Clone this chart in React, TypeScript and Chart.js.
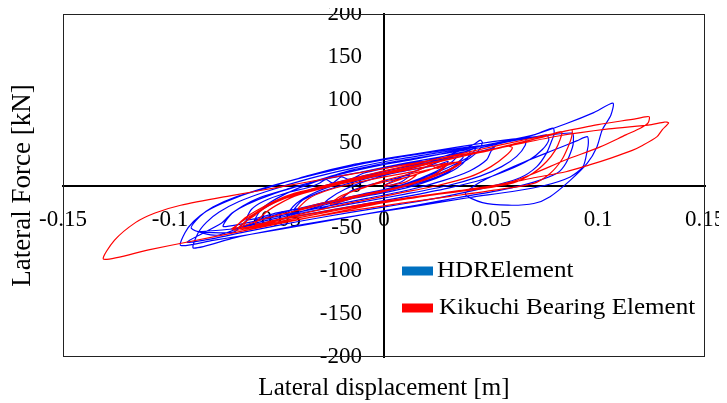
import React, { useEffect, useRef } from 'react';
import { Chart, registerables } from 'chart.js';

Chart.register(...registerables);

const X_MIN = -0.15;
const X_MAX = 0.15;
const X_STEP = 0.05;
const Y_MIN = -200;
const Y_MAX = 200;
const Y_STEP = 50;

const SERIES_LABELS = ['HDRElement', 'Kikuchi Bearing Element'];
const X_TITLE = 'Lateral displacement [m]';
const Y_TITLE = 'Lateral Force [kN]';

// HDRElement – [displacement m, force kN]
const hdrCycle1 = [
  [0, 0], [0.01, 12], [0.02, 22], [0.03, 32], [0.035, 37],
  [0.032, 28], [0.024, 16], [0.01, 2], [-0.005, -8], [-0.02, -19], [-0.03, -27],
  [-0.026, -16], [-0.018, -4], [-0.005, 8], [0.01, 18], [0.025, 29], [0.04, 41], [0.043, 44],
  [0.04, 34], [0.03, 21], [0.015, 6], [0, -6], [-0.015, -15], [-0.03, -24], [-0.045, -34],
];
const hdrCycle2 = [
  [-0.041, -21], [-0.033, -9], [-0.02, 3], [-0.005, 13], [0.01, 22], [0.025, 32], [0.035, 40], [0.042, 48], [0.045, 53], [0.046, 50],
  [0.044, 40], [0.037, 27], [0.025, 13], [0.008, 0], [-0.01, -10], [-0.03, -21], [-0.045, -30], [-0.06, -40],
];
const hdrCycle3 = [
  [-0.057, -27], [-0.05, -15], [-0.04, -3], [-0.025, 10], [-0.005, 22], [0.015, 31], [0.035, 41], [0.055, 51], [0.07, 59], [0.079, 67],
  [0.0795, 60], [0.0785, 53], [0.076, 38], [0.0714, 22], [0.0636, 9], [0.05, -1], [0.03, -12], [0.01, -21], [-0.015, -31], [-0.04, -42], [-0.065, -54], [-0.08, -62], [-0.092, -66],
];
const hdrCycle3b = [
  [-0.076, -44], [-0.071, -32], [-0.064, -22], [-0.052, -10], [-0.035, 3], [-0.015, 18], [0.005, 28], [0.025, 36], [0.045, 44], [0.058, 51], [0.066, 55],
  [0.066, 47], [0.062, 34], [0.055, 22], [0.045, 11], [0.03, 0], [0.01, -10], [-0.01, -19], [-0.03, -28], [-0.05, -38], [-0.065, -47], [-0.078, -58],
];
const hdrCycle4 = [
  [-0.09, -50], [-0.086, -36], [-0.08, -25], [-0.07, -14], [-0.055, -3], [-0.035, 12], [-0.015, 24], [0.005, 33], [0.025, 41], [0.045, 49], [0.06, 54], [0.075, 58], [0.088, 61],
  [0.0885, 52], [0.088, 44], [0.085, 26], [0.081, 14.6], [0.07, 4], [0.055, -5], [0.035, -14], [0.015, -23], [-0.01, -34], [-0.035, -45], [-0.06, -56], [-0.08, -64], [-0.095, -70],
];
const hdrCycle5 = [
  [-0.093, -55], [-0.089, -42], [-0.083, -30], [-0.073, -18], [-0.06, -6], [-0.04, 8], [-0.02, 20], [0, 30], [0.02, 38], [0.04, 45], [0.054, 49], [0.07, 59], [0.085, 72], [0.098, 85], [0.107, 96],
  [0.106, 82], [0.102, 65], [0.0995, 45], [0.095, 26], [0.087, 6], [0.0776, -13], [0.07, -21], [0.058, -23], [0.046, -20], [0.038, -10],
  [0.045, 4], [0.055, 16], [0.066, 28], [0.08, 42], [0.09, 52], [0.095, 57],
  [0.0955, 50], [0.095, 41], [0.093, 22], [0.087, 10], [0.075, 0], [0.06, -7], [0.04, -14], [0.02, -22], [0, -30], [-0.025, -40], [-0.05, -51], [-0.07, -61], [-0.089, -73],
];
const hdrCycle6 = [
  [-0.087, -56], [-0.083, -43], [-0.077, -31], [-0.068, -19], [-0.055, -7], [-0.035, 8], [-0.015, 20], [0.005, 30], [0.025, 38], [0.045, 46], [0.06, 52], [0.07, 56], [0.076, 59],
  [0.077, 53], [0.074, 42], [0.068, 30], [0.058, 18], [0.046, 7], [0.03, -3], [0.01, -13], [-0.01, -22], [-0.035, -33], [-0.055, -43], [-0.072, -51], [-0.087, -54], [-0.07, -54],
];
const hdrCycle7 = [
  [-0.064, -40], [-0.057, -28], [-0.048, -16], [-0.033, -4], [-0.015, 8], [0.005, 19], [0.025, 29], [0.04, 37], [0.05, 43], [0.052, 46], [0.05, 40],
  [0.048, 30], [0.04, 17], [0.028, 6], [0.012, -5], [-0.008, -15], [-0.028, -25], [-0.05, -36], [-0.075, -48],
];
const hdrCycle8 = [
  [-0.072, -35], [-0.066, -24], [-0.058, -14], [-0.045, -4], [-0.03, 6], [-0.01, 16], [0.01, 26], [0.03, 35], [0.04, 40],
  [0.039, 32], [0.034, 20], [0.024, 8], [0.01, -3], [-0.01, -13], [-0.03, -22], [-0.05, -32], [-0.064, -40],
];
const hdrCycle9 = [
  [-0.062, -28], [-0.056, -18], [-0.046, -9], [-0.035, -2], [-0.03, 3], [-0.027, 7], [-0.024, 3], [-0.02, 10], [-0.016, 7], [-0.01, 14], [0, 20], [0.015, 27], [0.028, 31], [0.035, 37], [0.037, 33],
  [0.033, 24], [0.036, 28], [0.03, 16], [0.02, 6], [0.005, -4], [-0.015, -14], [-0.03, -22], [-0.042, -29],
  [-0.038, -17], [-0.03, -8], [-0.02, 0], [-0.005, 10], [0.01, 17], [0.025, 24], [0.03, 28],
  [0.026, 17], [0.016, 7], [0, -5], [-0.012, -12], [-0.02, -17],
  [-0.015, -6], [-0.005, 2], [0.005, 8], [0.012, 12], [0.008, 4], [0, -2],
];

// Kikuchi Bearing Element – [displacement m, force kN]
const kbCycle1 = [
  [0, 0], [0.01, 9], [0.02, 17], [0.028, 24], [0.025, 15], [0.015, 4], [0, -7], [-0.015, -15], [-0.025, -22],
  [-0.02, -12], [-0.01, -3], [0, 6], [0.015, 15], [0.03, 24], [0.036, 28],
  [0.03, 18], [0.02, 7], [0.005, -4], [-0.015, -14], [-0.035, -26], [-0.055, -38], [-0.071, -51],
];
const kbCycle2 = [
  [-0.064, -38], [-0.058, -29], [-0.05, -17], [-0.042, -9], [-0.03, -2], [-0.015, 7], [0, 15], [0.02, 26], [0.04, 36], [0.06, 48], [0.075, 57], [0.083, 62.7],
  [0.0822, 53], [0.08, 41], [0.076, 28], [0.0697, 14.6], [0.0604, 3], [0.045, -4], [0.025, -10], [0.005, -17], [-0.02, -28], [-0.045, -40], [-0.068, -50],
];
const kbCycle2b = [
  [-0.06, -34], [-0.053, -22], [-0.043, -12], [-0.028, -2], [-0.01, 9], [0.01, 20], [0.03, 31], [0.048, 40], [0.058, 46], [0.06, 44],
  [0.057, 35], [0.05, 22], [0.04, 10], [0.025, 0], [0.005, -10], [-0.015, -20], [-0.035, -31], [-0.052, -41], [-0.066, -49],
];
const kbCycle3 = [
  [-0.062, -36], [-0.055, -25], [-0.045, -14], [-0.03, -4], [-0.01, 8], [0.01, 19], [0.03, 30], [0.05, 42], [0.065, 51], [0.078, 59], [0.0877, 64.7],
  [0.0877, 57], [0.086, 45], [0.083, 29.7], [0.0776, 14], [0.07, 2.5], [0.05, -6], [0.03, -13], [0.01, -20], [-0.02, -31], [-0.05, -44], [-0.07, -52],
];
const kbCycle4 = [
  [-0.065, -38], [-0.058, -27], [-0.049, -16], [-0.035, -5], [-0.015, 8], [0, 17], [0.025, 31], [0.054, 47], [0.082, 62], [0.1, 71], [0.118, 78], [0.122, 80], [0.124, 80],
  [0.1234, 73], [0.12, 67], [0.113, 59], [0.101, 45], [0.085, 30], [0.07, 14], [0.059, 4], [0.04, -5], [0.02, -12], [0, -20], [-0.03, -35], [-0.06, -50], [-0.09, -65], [-0.11, -75], [-0.131, -86],
];
const kbCycle5 = [
  [-0.126, -64], [-0.116, -43], [-0.107, -32], [-0.095, -23], [-0.072, -12], [-0.049, -2], [-0.025, 9], [0, 20], [0.03, 33], [0.054, 44], [0.082, 58], [0.105, 66], [0.125, 71], [0.131, 74], [0.133, 73],
  [0.13, 65], [0.1276, 57], [0.121, 47], [0.116, 41], [0.106, 32], [0.096, 24], [0.085, 16], [0.07, 9], [0.054, 1], [0.035, -6], [0.015, -13], [-0.005, -20], [-0.025, -29], [-0.045, -38], [-0.06, -45],
];
const kbCycle6 = [
  [-0.055, -31], [-0.048, -20], [-0.04, -11], [-0.025, -1], [0, 13], [0.02, 22], [0.033, 27], [0.036, 26],
  [0.03, 17], [0.02, 8], [0.005, -3], [-0.015, -13], [-0.03, -21], [-0.04, -27],
  [-0.035, -15], [-0.028, -7], [-0.015, 2], [0, 10], [0.015, 17], [0.022, 24], [0.025, 20], [0.03, 26],
  [0.025, 14], [0.015, 4], [0, -6], [-0.015, -14], [-0.022, -18],
  [-0.015, -7], [-0.005, 1], [0.008, 8], [0.015, 12], [0.01, 4], [0, -1],
];

const hdrPath = [
  ...hdrCycle1, ...hdrCycle2, ...hdrCycle3, ...hdrCycle3b, ...hdrCycle4,
  ...hdrCycle5, ...hdrCycle6, ...hdrCycle7, ...hdrCycle8, ...hdrCycle9,
];
const kbPath = [...kbCycle1, ...kbCycle2, ...kbCycle2b, ...kbCycle3, ...kbCycle4, ...kbCycle5, ...kbCycle6];

const FONT = "'Liberation Serif', 'Times New Roman', Times, serif";
const HDR_LINE = '#0000FF';
const HDR_KEY = '#0070C0';
const KB_LINE = '#FF0000';
const KB_KEY = '#FF0000';

const zeroPad = (s: any) => {
  s.paddingLeft = 0;
  s.paddingRight = 0;
  s.paddingTop = 0;
  s.paddingBottom = 0;
};

const framePlugin = {
  id: 'frameAndKey',
  beforeDatasetsDraw(chart: any) {
    const { ctx, chartArea: a } = chart;
    ctx.save();
    ctx.strokeStyle = '#222';
    ctx.lineWidth = 1;
    ctx.strokeRect(a.left + 0.5, a.top + 0.5, a.width - 1, a.height - 1);
    ctx.restore();
  },
  afterDraw(chart: any) {
    const { ctx, chartArea: a } = chart;
    const keys = [HDR_KEY, KB_KEY];
    ctx.save();
    ctx.font = `23px ${FONT}`;
    ctx.textBaseline = 'middle';
    ctx.textAlign = 'left';
    chart.data.datasets.forEach((ds: any, i: number) => {
      const cy = a.top + 257 + i * 37;
      ctx.fillStyle = keys[i];
      ctx.fillRect(a.left + 339, cy - 4.5, 31, 9);
      ctx.fillStyle = '#000';
      ctx.save();
      ctx.translate(a.left + 374 + (i === 1 ? 2 : 0), cy);
      ctx.scale(1.09, 1);
      ctx.fillText(ds.label, 0, 0);
      ctx.restore();
    });
    ctx.restore();
  },
};

export default function App() {
  const canvasRef = useRef<HTMLCanvasElement | null>(null);

  useEffect(() => {
    const canvas = canvasRef.current;
    if (!canvas) return;
    const chart = new Chart(canvas, {
      type: 'scatter',
      data: {
        datasets: [
          {
            label: SERIES_LABELS[0],
            data: hdrPath.map(([x, y]) => ({ x, y })),
            showLine: true,
            borderColor: HDR_LINE,
            backgroundColor: HDR_LINE,
            borderWidth: 1.2,
            pointRadius: 0,
            tension: 0.25,
            order: 2,
          },
          {
            label: SERIES_LABELS[1],
            data: kbPath.map(([x, y]) => ({ x, y })),
            showLine: true,
            borderColor: KB_LINE,
            backgroundColor: KB_LINE,
            borderWidth: 1.2,
            pointRadius: 0,
            tension: 0.25,
            order: 1,
          },
        ],
      },
      options: {
        animation: false,
        responsive: true,
        maintainAspectRatio: false,
        layout: { padding: { left: 0, right: 14, top: 6, bottom: 0 } },
        plugins: {
          legend: { display: false },
          tooltip: { enabled: false },
        },
        scales: {
          x: {
            type: 'linear',
            position: 'center',
            min: X_MIN,
            max: X_MAX,
            ticks: {
              stepSize: X_STEP,
              color: '#000',
              font: { family: FONT, size: 23 },
              padding: 21,
              maxRotation: 0,
              autoSkip: false,
              callback: (v: any) => String(Math.round(Number(v) * 100) / 100),
            },
            grid: { display: false, drawTicks: false },
            border: { display: true, color: '#000', width: 2 },
            afterFit: (s: any) => {
              s.height = 0;
              zeroPad(s);
            },
          },
          y: {
            type: 'linear',
            position: 'center',
            min: Y_MIN,
            max: Y_MAX,
            ticks: {
              stepSize: Y_STEP,
              color: '#000',
              font: { family: FONT, size: 23 },
              padding: 22,
              autoSkip: false,
            },
            grid: { display: false, drawTicks: false },
            border: { display: true, color: '#000', width: 2 },
            afterFit: (s: any) => {
              s.width = 0;
              zeroPad(s);
            },
          },
          yTitle: {
            type: 'linear',
            axis: 'y',
            position: 'left',
            ticks: { display: false },
            grid: { display: false, drawTicks: false },
            border: { display: false },
            title: {
              display: true,
              text: Y_TITLE,
              color: '#000',
              font: { family: FONT, size: 27 },
              padding: { top: -1, bottom: 0 },
            },
            afterFit: (s: any) => {
              s.width = 55;
              zeroPad(s);
            },
          },
          xTitle: {
            type: 'linear',
            axis: 'x',
            position: 'bottom',
            ticks: { display: false },
            grid: { display: false, drawTicks: false },
            border: { display: false },
            title: {
              display: true,
              text: X_TITLE,
              color: '#000',
              font: { family: FONT, size: 25 },
              padding: { top: 0, bottom: 0 },
            },
            afterFit: (s: any) => {
              s.height = 46;
              zeroPad(s);
            },
          },
        },
      } as any,
      plugins: [framePlugin],
    });
    let alive = true;
    if ((document as any).fonts && (document as any).fonts.load) {
      Promise.all([
        (document as any).fonts.load('23px "Liberation Serif"'),
        (document as any).fonts.load('25px "Liberation Serif"'),
      ]).then(() => {
        if (alive) chart.update();
      }).catch(() => {});
    }
    return () => {
      alive = false;
      chart.destroy();
    };
  }, []);

  return (
    <div style={{ position: 'fixed', left: '8px', top: '8px', width: '711px', height: '395px' }}>
      <span style={{ position: 'absolute', left: 0, top: 0, opacity: 0, fontFamily: FONT, fontSize: '23px', pointerEvents: 'none' }}>Aa</span>
      <canvas ref={canvasRef} />
    </div>
  );
}
